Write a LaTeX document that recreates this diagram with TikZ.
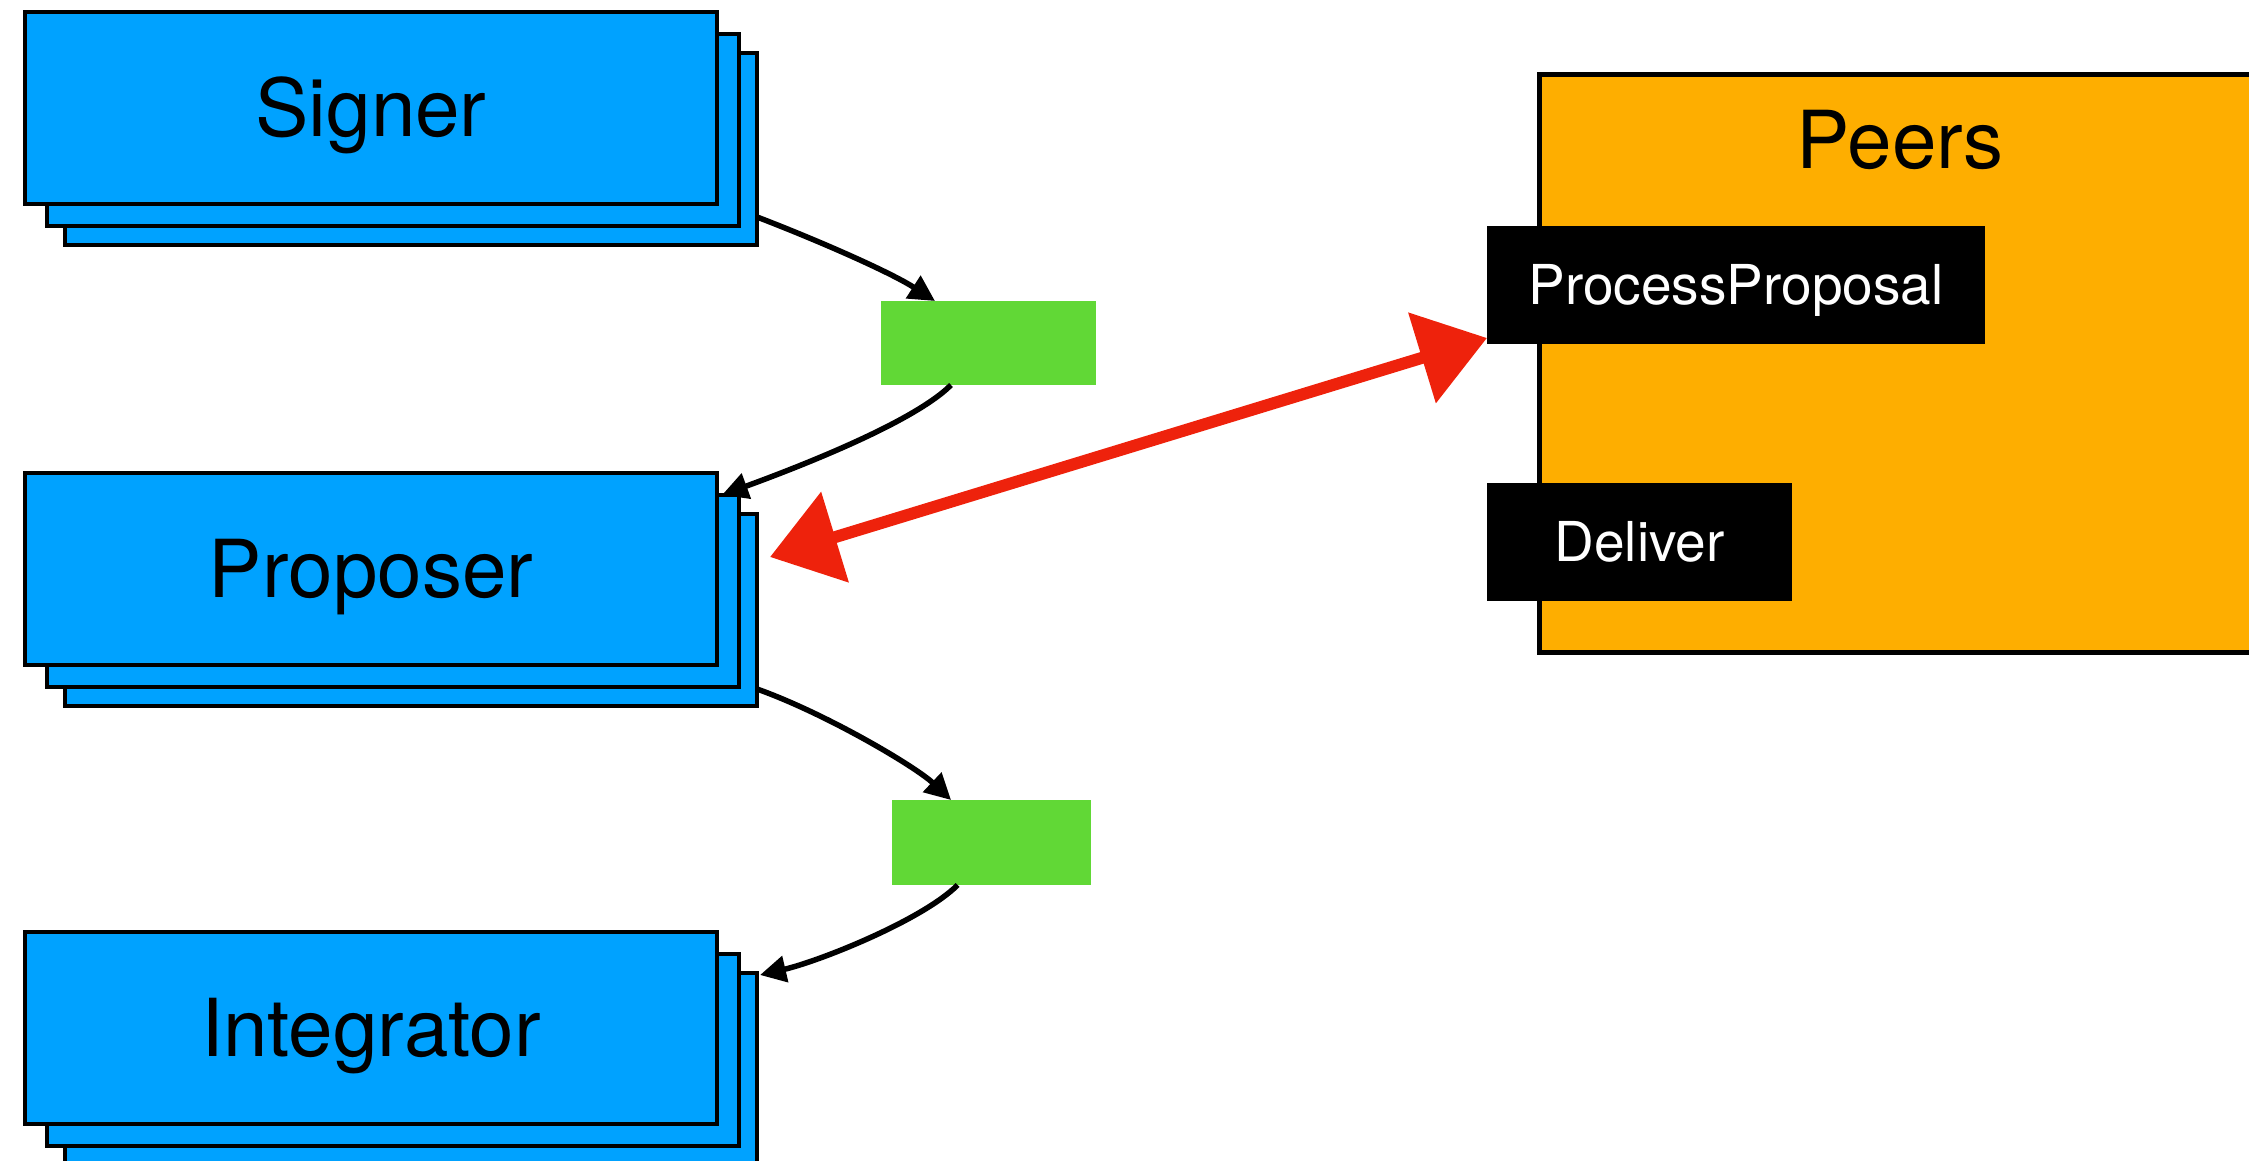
\documentclass[tikz,border=0pt]{standalone}
\usepackage{fontspec}
\setmainfont{TeX Gyre Heros}
\usetikzlibrary{arrows.meta,calc}
\definecolor{cblue}{RGB}{0,162,255}
\definecolor{cgreen}{RGB}{97,216,54}
\definecolor{corange}{RGB}{254,174,0}
\definecolor{cred}{RGB}{238,34,12}
\begin{document}
\begin{tikzpicture}[x=1pt,y=-1pt,
  stackbox/.style={draw=black, line width=3.2pt, fill=cblue, anchor=north west,
    minimum width=692pt, minimum height=192pt, inner sep=0pt, outer sep=0pt},
  bigtext/.style={font=\fontsize{80}{90}\selectfont, text height=57pt, text depth=0pt},
  queuebox/.style={fill=cgreen, anchor=north west, inner sep=0pt, outer sep=0pt},
  handlerbox/.style={fill=black, text=white, anchor=north west, inner sep=0pt, outer sep=0pt,
    font=\fontsize{55}{66}\selectfont, text height=39.5pt, text depth=0pt, minimum height=118pt},
  flow/.style={line width=5.5pt, -{Triangle[length=26pt,width=26pt]}},
  rpc/.style={draw=cred, line width=12pt, line cap=round,
    {Triangle[length=68pt,width=92pt]}-{Triangle[length=68pt,width=92pt]}}
]
\useasboundingbox (0,0) rectangle (2249,1161);
\clip (0,0) rectangle (2249,1161);

% Signer stack
\node[stackbox] (sigback) at (65,53) {};
\node[stackbox] (sigmid) at (47,34) {};
\node[stackbox, bigtext] (signer) at (25,12) {Signer};

% Proposer stack
\node[stackbox] (probk) at (65,514) {};
\node[stackbox] (promid) at (47,495) {};
\node[stackbox, bigtext] (proposer) at (25,473) {Proposer};

% Integrator stack
\node[stackbox] (intbk) at (65,973) {};
\node[stackbox] (intmid) at (47,954) {};
\node[stackbox, bigtext] (integrator) at (25,932) {Integrator};

% queues
\node[queuebox, minimum width=215pt, minimum height=84pt] (q1) at (881,301) {};
\node[queuebox, minimum width=199pt, minimum height=85pt] (q2) at (892,800) {};

% Peers
\node[draw=black, line width=5pt, fill=corange, anchor=north west,
  minimum width=760pt, minimum height=578pt, inner sep=0pt] (peers) at (1537,72) {};
\node[font=\fontsize{80}{90}\selectfont, anchor=base] (peerslabel) at (1900,169) {Peers};
\node[handlerbox, minimum width=498pt] (pp) at (1487,226) {ProcessProposal};
\node[handlerbox, minimum width=305pt] (deliver) at (1487,483) {Deliver};

% flows
\draw[flow] ([yshift=-68pt]sigback.east) .. controls +(60,23) and +(-45,-29) .. ([xshift=54pt]q1.north west);
\draw[flow] ([xshift=70pt]q1.south west) .. controls +(-40,40) and +(60,-22) .. ([xshift=-17pt]promid.north east);
\draw[flow] ([yshift=-79pt]probk.east) .. controls +(70,25) and +(-35,-33) .. ([xshift=59pt]q2.north west);
\draw[flow] ([xshift=65.6pt]q2.south west) .. controls +(-35,35) and +(60,-14) .. ([xshift=3pt,yshift=-2pt]intbk.north east);

% red double arrow
\draw[rpc] ([xshift=13pt,yshift=53pt]probk.east) -- ([yshift=6pt]pp.south west);
\end{tikzpicture}
\end{document}
